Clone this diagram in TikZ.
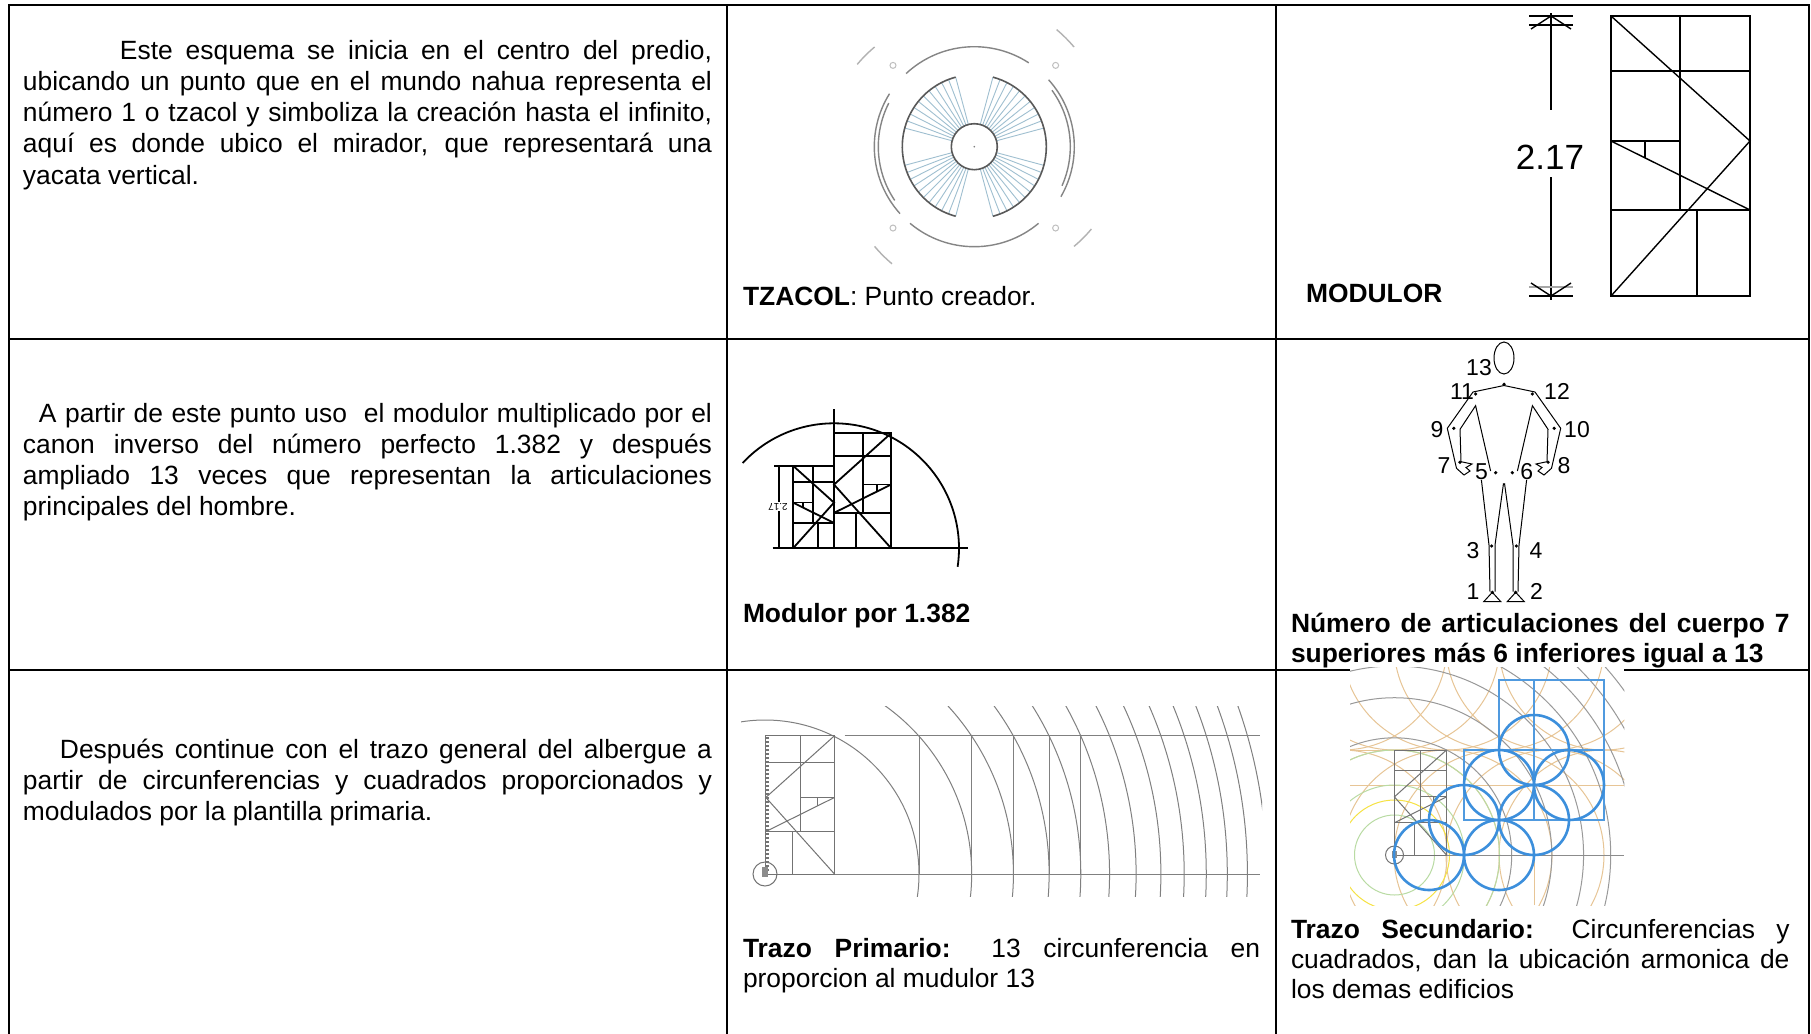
\documentclass[tikz,border=0pt]{standalone}
\usepackage{fontspec}
\setmainfont{Liberation Sans}
\definecolor{raycol}{HTML}{9FBFD0}
\definecolor{secblue}{HTML}{3C8FDC}
\definecolor{tanc}{HTML}{E7C596}
\definecolor{greenc}{HTML}{B9DBA3}
\tolerance=10000
\hbadness=10000
% module grid of the modulor: 139 x 280 units, origin at its top-left corner
\newcommand{\modgridlines}{%
  \draw (0,0) rectangle (139,280);
  \draw (69,0) -- (69,194);
  \draw (0,55) -- (139,55);
  \draw (0,194) -- (139,194);
  \draw (0,125) -- (69,125);
  \draw (34,125) -- (34,142);
  \draw (86,194) -- (86,280);
  \draw (0,0) -- (139,125) -- (0,280);
  \draw (0,125) -- (139,194);
}
\begin{document}
\begin{tikzpicture}[x=0.5pt,y=-0.5pt,
  every node/.style={inner sep=0pt, outer sep=0pt},
  tblline/.style={line width=1pt, black, line cap=rect},
  bodytext/.style={font=\fontsize{13.2pt}{15.65pt}\selectfont, text width=344.5pt, align=justify, anchor=base west},
  captext/.style={font=\fontsize{13.2pt}{15pt}\selectfont, anchor=base west},
  capbox/.style={captext, align=justify},
  modln/.style={line width=0.7pt, black},
  fanrim/.style={line width=0.8pt, black!65},
  fanray/.style={line width=0.45pt, raycol},
  halo/.style={line width=0.7pt, black!48},
  jlab/.style={font=\fontsize{11.5pt}{12pt}\selectfont},
  arcg/.style={line width=0.5pt, black!50},
  bcirc/.style={line width=1.3pt, secblue},
  brect/.style={line width=0.9pt, secblue!90},
  tarc/.style={line width=0.5pt, tanc},
  garc/.style={line width=0.5pt, greenc}
]
\fill[white] (0,0) rectangle (1811,1034);
\useasboundingbox (0,0) rectangle (1811,1034);

% ---------- table rules ----------
\draw[tblline] (9,4.5) -- (1809,4.5);
\draw[tblline] (9,4.5) -- (9,1040);
\draw[tblline] (1809,4.5) -- (1809,1040);
\draw[tblline] (727,4.5) -- (727,1040);
\draw[tblline] (1276,4.5) -- (1276,1040);
\draw[tblline] (9,338.5) -- (1809,338.5);
\draw[tblline] (9,670) -- (1809,670);

% ---------- left column ----------
\node[bodytext] (intro) at (23,59) {\hspace*{48.5pt}Este esquema se inicia en el centro del predio,\linebreak ubicando un punto que en el mundo nahua representa el\linebreak número 1 o tzacol y simboliza la creación hasta el infinito,\linebreak aquí es donde ubico el mirador, que representará una\linebreak yacata vertical.};
\node[bodytext] (modtext) at (23,422) {\hspace*{8pt}A partir de este punto uso\ \ el modulor multiplicado por el\linebreak canon inverso del número perfecto 1.382 y después\linebreak ampliado 13 veces que representan la articulaciones\linebreak principales del hombre.};
\node[bodytext] (trazotext) at (23,758) {\hspace*{18.5pt}Después continue con el trazo general del albergue a\linebreak partir de circunferencias y cuadrados proporcionados y\linebreak modulados por la plantilla primaria.};

% ---------- tzacol: stair fan around the centre ----------
\begin{scope}[shift={(974.3,146.7)}, yscale=-1]
  \foreach \a in {105,111,...,165,195,201,...,255,-75,-69,...,-15,15,21,...,75}
    \draw[fanray] (\a:23) -- (\a:72);
  \draw[fanrim] (0,0) circle (23);
  \draw[fanrim] (105:72) arc (105:255:72);
  \draw[fanrim] (-75:72) arc (-75:75:72);
  \draw[halo] (57:100) arc (57:133:100);
  \draw[halo] (230:100) arc (230:310:100);
  \draw[halo] (148:100) arc (148:222:100);
  \draw[halo] (153:96) arc (153:214:96);
  \draw[halo] (-30:100) arc (-30:42:100);
  \draw[halo] (-24:96) arc (-24:36:96);
  \foreach \a in {45,135,225,315} {
    \draw[halo, black!30] (\a:141) arc[start angle=\a-5, end angle=\a+5, radius=141];
    \draw[black!25, line width=0.5pt] (\a:115) circle (3);
  }
  \fill[black!50] (0,0) circle (0.9);
\end{scope}
\node[captext] (tzcap) at (743,305) {\textbf{TZACOL}: Punto creador.};

% ---------- modulor ----------
\begin{scope}[modln]
  \draw (1551,13) -- (1551,110);
  \draw (1551,177) -- (1551,300);
  \draw (1529,16) -- (1573,16);
  \draw (1529,25) -- (1573,25);
  \draw (1531,29) -- (1551,16) -- (1571,29);
  \draw[black!35] (1529,287) -- (1573,287);
  \draw (1529,296) -- (1573,296);
  \draw (1531,283) -- (1551,296) -- (1571,283);
  \begin{scope}[shift={(1611,16)}]
    \modgridlines
  \end{scope}
\end{scope}
\node[font=\fontsize{17.5pt}{18pt}\selectfont] (dimlab) at (1550,157.5) {2.17};
\node[captext] (modcap) at (1306,302) {\textbf{MODULOR}};

% ---------- modulor por 1.382 ----------
\begin{scope}[modln, line width=0.9pt]
  \draw (834,409.3) -- (834,548.3);
  \draw (772.6,548.3) -- (968.4,548.3);
  \draw (774.4,465.7) -- (793,465.7);
  \draw (779,465.7) -- (779,548.3);
  \draw (834,548.3) ++(-137:125) arc (-137:8.5:125);
  \begin{scope}[shift={(793,465.7)}, scale=0.295]
    \modgridlines
  \end{scope}
  \begin{scope}[shift={(891,433.3)}, xscale=-0.41, yscale=0.41]
    \modgridlines
  \end{scope}
\end{scope}
\node[fill=white, inner sep=0.5pt, font=\fontsize{5pt}{5pt}\selectfont, rotate=180] (smalldim) at (778,506.7) {2.17};
\node[captext] (m1382cap) at (743,622) {\textbf{Modulor por 1.382}};

% ---------- human figure with its 13 joints ----------
\begin{scope}[line width=0.5pt]
  \draw (1504,358) ellipse (10 and 16);
  \foreach \s in {1,-1} {
    \begin{scope}[shift={(1504,0)}, xscale=\s]
      \draw (-31,392) -- (0,385.5);
      \draw (-31,392) -- (-56.7,428.3) -- (-47.5,468.3) -- (-40,475) -- (-34,471)
            -- (-38,467.5) -- (-32,464) -- (-43,461.7) -- (-44,429.3) -- (-28.4,405.7) -- (-13.4,471);
      \draw (-22.6,480) -- (-15,545) -- (-14,591.7);
      \draw (-0.5,483.3) -- (-9,545) -- (-9,591.7);
      \draw (-11.7,592.3) -- (-20.3,601.7) -- (-3.2,601.7) -- cycle;
      \foreach \p in {(-28.4,394),(-50.2,428.3),(-44.1,462.3),(-8.3,472.7),(-12.4,546),(-11.7,592.3)}
        \fill \p circle (1.8);
    \end{scope}
  }
  \fill (1504,384.3) circle (1.8);
\end{scope}
\node[jlab] (j13) at (1479,367.3) {13};
\node[jlab] (j11) at (1462,391.7) {11};
\node[jlab] (j12) at (1557,391.7) {12};
\node[jlab] (j9) at (1437,429.3) {9};
\node[jlab] (j10) at (1577,430) {10};
\node[jlab] (j7) at (1444,466) {7};
\node[jlab] (j8) at (1564,466) {8};
\node[jlab] (j5) at (1481.4,471.7) {5};
\node[jlab] (j6) at (1526.7,471.7) {6};
\node[jlab] (j3) at (1473,550.7) {3};
\node[jlab] (j4) at (1536,550.7) {4};
\node[jlab] (j1) at (1473,591.7) {1};
\node[jlab] (j2) at (1536.5,591.7) {2};
\node[capbox, text width=249.25pt] (figcap) at (1291,632.5) {\textbf{Número de articulaciones del cuerpo 7\linebreak superiores más 6 inferiores igual a 13}};

% ---------- trazo primario ----------
\begin{scope}
  \clip (741,706.7) rectangle (1262,896.7);
  \foreach \n in {0,...,12}
    \draw[arcg] (765,874) circle ({100*sqrt(2.3716+1.9*\n)});
  \foreach \n in {0,...,4}
    \draw[arcg] ({765+100*sqrt(2.3716+1.9*\n)},735.7) -- ++(0,138.3);
  \draw[arcg] (844.5,735.7) -- (1260,735.7);
  \draw[arcg] (776,874) -- (1260,874);
  \begin{scope}[shift={(834.5,735.7)}, xscale=-0.494, yscale=0.494, line width=0.5pt, black!55]
    \modgridlines
  \end{scope}
  \draw[black!55, line width=1.6pt, dash pattern=on 1pt off 1pt] (767.5,737) -- (767.5,872);
  \draw[black!55, line width=0.5pt] (765,874) circle (12);
  \fill[black!45] (762,867) rectangle (768,877);
\end{scope}
\node[capbox, text width=258.5pt] (tpcap) at (743,957.5) {\textbf{Trazo Primario:} 13 circunferencia en\linebreak proporcion al mudulor 13};

% ---------- trazo secundario ----------
\fill[white] (1350,667) rectangle (1624.4,905);
\begin{scope}
  \clip (1350,667) rectangle (1624.4,905);
  \foreach \cx in {1342,1394.5,1447,1499,1551,1604} {
    \draw[tarc] (\cx,855) circle (105);
    \draw[tarc] (\cx,645) circle (105);
  }
  \draw[tarc] (1350,785) -- (1624.4,785);
  \draw[tarc] (1350,750) -- (1394.5,750);
  \draw[tarc] (1534,905) -- (1534,855);
  \draw[garc] (1394.5,855) circle (40);
  \draw[garc] (1394.5,855) circle (70);
  \draw[garc] (1394.5,855) circle (105);
  \draw[line width=0.5pt, yellow!60!tanc] (1394.5,855) circle (55);
  \foreach \n in {0,...,12}
    \draw[arcg, black!40] (1394.5,855) circle ({76.1*sqrt(2.3716+1.9*\n)});
  \draw[arcg, black!45] (1394.5,855) -- (1624.4,855);
  \begin{scope}[shift={(1446.5,750)}, xscale=-0.375, yscale=0.375, line width=0.5pt, black!55]
    \modgridlines
  \end{scope}
  \draw[black!55, line width=0.5pt] (1394.5,855) circle (9);
  \fill[black!45] (1392,851) rectangle (1397,858);
  \draw[brect] (1499,680) rectangle (1604,750);
  \draw[brect] (1464,750) rectangle (1604,820);
  \draw[brect] (1534,680) -- (1534,820);
  \foreach \p in {(1534,750),(1569,785),(1499,785),(1534,820),(1464,820),(1429,855),(1499,855)}
    \draw[bcirc] \p circle (35);
\end{scope}
\node[capbox, text width=249.25pt] (tscap) at (1291,938) {\textbf{Trazo Secundario:} Circunferencias y\linebreak cuadrados, dan la ubicación armonica de\linebreak los demas edificios};
\end{tikzpicture}
\end{document}
